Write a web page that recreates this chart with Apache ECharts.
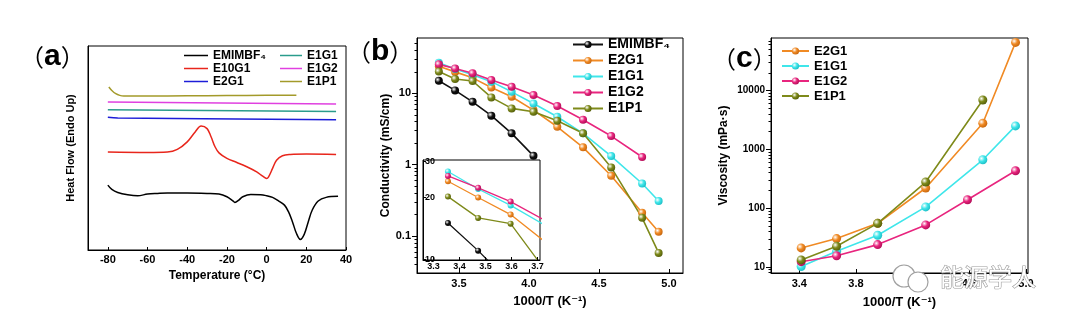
<!DOCTYPE html>
<html><head><meta charset="utf-8">
<script src="https://cdn.jsdelivr.net/npm/echarts@6/dist/echarts.min.js"></script>
<style>html,body{margin:0;padding:0;background:#fff}#c{width:1080px;height:328px}</style>
</head><body><div id="c"></div>
<script>
// ---------- Panel (a): DSC curves (arbitrary heat-flow units) ----------
const aBlackT = [-80,-78,-75,-70,-65,-60,-55,-50,-40,-30,-24,-20,-17,-16,-14,-12,-8,-3,0,3,6,9,11,13,15,17,19,21,23,26,30,36];
const aBlackV = [31.8,29.7,28.2,27.1,26.6,27.4,27.7,27.9,27.9,27.7,27.4,26.1,24.1,23.3,24.5,26.1,27.2,27.1,26.6,25.8,24.1,22.0,18.8,13.9,8.2,5.2,7.8,13.9,19.6,24.0,25.8,26.3];
const aRedT = [-80,-60,-50,-45,-40,-36,-33,-30,-28,-26,-24,-20,-15,-10,-5,-2,0,1,3,5,8,12,20,35];
const aRedV = [48.0,47.8,48.0,49.3,53.0,57.9,60.8,59.5,55.5,50.6,47.6,44.9,42.9,40.8,38.3,36.2,35.1,35.9,40.0,44.0,46.2,46.8,47.0,46.8];
const aBlueT = [-80,-75,35];
const aBlueV = [65.1,64.7,63.8];
const aTealT = [-80,35];
const aTealV = [68.8,67.9];
const aMagT = [-80,35];
const aMagV = [72.6,71.6];
const aOliveT = [-79.5,-78,-76,-74,-72,-60,-40,-20,0,15];
const aOliveV = [79.9,78.2,76.6,75.8,75.5,75.5,75.6,75.7,75.8,75.9];
const aTicks = [-80,-60,-40,-20,0,20,40];

// ---------- Panel (b): conductivity (mS/cm) vs 1000/T ----------
const bX = [3.356,3.472,3.597,3.731,3.876,4.032,4.202,4.386,4.587,4.808,4.926];
const bEMIM = [15.0,11.0,7.6,4.86,2.75,1.33];
const bE2G1 = [24.0,20.0,16.5,12.1,8.97,5.83,3.40,1.75,0.70,0.212,0.115];
const bE1G1 = [26.8,22.0,18.3,14.6,10.5,7.2,4.7,2.75,1.32,0.545,0.309];
const bE1G2 = [25.5,22.3,19.1,15.4,12.4,9.47,6.64,4.27,2.52,1.28];
const bE1P1 = [20.2,15.9,14.9,8.78,6.15,5.52,4.13,2.75,0.916,0.18,0.058];
const bXTicks = [3.5,4.0,4.5,5.0];
const bYTicks = [0.1,1,10];
const bYMinor = [0.04,0.05,0.06,0.07,0.08,0.09,0.2,0.3,0.4,0.5,0.6,0.7,0.8,0.9,2,3,4,5,6,7,8,9,20,30,40,50];
const insetXTicks = [3.3,3.4,3.5,3.6,3.7];
const insetYTicks = [10,20,30];

// ---------- Panel (c): viscosity (mPa·s) vs 1000/T ----------
const cX = [3.413,3.663,3.953,4.292,4.695,4.926];
const cXG2 = [3.413,3.663,3.953,4.292,4.587,4.926];
const cE2G1 = [21.1,30.4,55.2,220,2780,65600];
const cE1G1 = [10.2,18.5,34.6,105,664,2500];
const cE1G2 = [12.3,15.5,24,51.9,139,432];
const cE1P1 = [13.2,22.5,55.2,278,6900];
const cXTicks = [3.4,3.8,4.2,4.6,5.0];
const cYTicks = [10,100,1000,10000];
const cYMinor = [8,9,20,30,40,50,60,70,80,90,200,300,400,500,600,700,800,900,2000,3000,4000,5000,6000,7000,8000,9000,20000,30000,40000,50000,60000,70000];

const FONT = "'Liberation Sans', Arial, 'DejaVu Sans', sans-serif";
const C = {black:'#111111', orange:'#f08a24', cyan:'#3fe6ea', pink:'#e8257e', olive:'#7e8a1a',
  aTeal:'#2a9c8c', aRed:'#e8261c', aMag:'#e040e0', aBlue:'#1d1dd8', aOlive:'#a39a2a'};
const shade = {black:'#000000', orange:'#c0600a', cyan:'#18b8c0', pink:'#a80a50', olive:'#4e5808'};

function pairs(xs, ys){ return ys.map((y,i)=>[xs[i], y]); }
function ball(key){
  return {type:'radial', x:0.35, y:0.35, r:0.75,
    colorStops:[{offset:0,color:'#ffffff'},{offset:0.45,color:C[key]},{offset:1,color:shade[key]}]};
}
function nm(n){ const s = n.split(':')[1]; return s === 'EMIMBF4' ? 'EMIMBF\u2084' : s; }
const black = {color:'#000'};
const lab = (fs) => ({fontFamily:FONT, fontWeight:'bold', fontSize:fs, color:'#000'});

// ---- series ----
const series = [];
function aLine(name, xs, ys, col){
  series.push({name:'a:'+name, type:'line', xAxisIndex:0, yAxisIndex:0, data:pairs(xs,ys),
    symbol:'none', smooth:0.35, lineStyle:{color:col, width:1.5}, itemStyle:{color:col}});
}
aLine('EMIMBF4', aBlackT, aBlackV, '#000');
aLine('E10G1', aRedT, aRedV, C.aRed);
aLine('E2G1', aBlueT, aBlueV, C.aBlue);
aLine('E1G1', aTealT, aTealV, C.aTeal);
aLine('E1G2', aMagT, aMagV, C.aMag);
aLine('E1P1', aOliveT, aOliveV, C.aOlive);

function bLine(prefix, name, xs, ys, key, xi, yi, size, lw){
  series.push({name:prefix+name, type:'line', xAxisIndex:xi, yAxisIndex:yi, data:pairs(xs,ys),
    symbol:'circle', symbolSize:size, showSymbol:true, clip:true,
    lineStyle:{color:C[key], width:lw}, itemStyle:{color:ball(key)}, z: 3});
}
const bSets = [['EMIMBF4', bEMIM, 'black'], ['E2G1', bE2G1, 'orange'], ['E1G1', bE1G1, 'cyan'], ['E1G2', bE1G2, 'pink'], ['E1P1', bE1P1, 'olive']];
bSets.forEach(s => bLine('b:', s[0], bX, s[1], s[2], 1, 1, 8, 1.6));
bSets.forEach(s => bLine('i:', s[0], bX, s[1], s[2], 2, 3, 6, 1.3));
bLine('c:', 'E2G1', cX, cE2G1, 'orange', 3, 4, 9, 1.6);
bLine('c:', 'E1G1', cX, cE1G1, 'cyan', 3, 4, 9, 1.6);
bLine('c:', 'E1G2', cXG2, cE1G2, 'pink', 3, 4, 9, 1.6);
bLine('c:', 'E1P1', cX, cE1P1, 'olive', 3, 4, 9, 1.6);

const fmt1 = v => (Math.round(v*10)/10).toFixed(1);
const fmtLog = v => String(Math.round(v*10)/10);
const line0 = {show:true, onZero:false, lineStyle:black};

const option = {
  backgroundColor:'#ffffff',
  animation:false,
  textStyle:{fontFamily:FONT},
  grid:[
    {left:88, top:46, width:258, height:204, show:true, borderColor:'#000', borderWidth:1, backgroundColor:'transparent'},
    {left:417, top:38, width:266, height:235, show:true, borderColor:'#000', borderWidth:1, backgroundColor:'transparent'},
    {left:423, top:160, width:117, height:100, show:true, borderColor:'#000', borderWidth:1, backgroundColor:'#ffffff', z:1},
    {left:771, top:38, width:257, height:235, show:true, borderColor:'#000', borderWidth:1, backgroundColor:'transparent'}
  ],
  xAxis:[
    {gridIndex:0, type:'value', min:-90, max:40, axisLine:line0,
     axisTick:{customValues:aTicks, inside:true, length:3, lineStyle:black},
     axisLabel:{customValues:aTicks, margin:4, ...lab(11)}, splitLine:{show:false},
     name:'Temperature (°C)', nameLocation:'middle', nameGap:17, nameTextStyle:lab(12)},
    {gridIndex:1, type:'value', min:3.2, max:5.1, axisLine:line0,
     axisTick:{customValues:bXTicks, inside:true, length:4, lineStyle:black},
     axisLabel:{customValues:bXTicks, formatter:fmt1, margin:5, ...lab(11)}, splitLine:{show:false},
     name:'1000/T (K\u207B\u00B9)', nameLocation:'middle', nameGap:22, nameTextStyle:lab(13)},
    {gridIndex:2, type:'value', min:3.26, max:3.71, axisLine:line0,
     axisTick:{customValues:insetXTicks, inside:true, length:3, lineStyle:black},
     axisLabel:{customValues:insetXTicks, formatter:fmt1, margin:2, ...lab(9)}, splitLine:{show:false}, z:5},
    {gridIndex:3, type:'value', min:3.2, max:5.014, axisLine:line0,
     axisTick:{customValues:cXTicks, inside:true, length:4, lineStyle:black},
     axisLabel:{customValues:cXTicks, formatter:fmt1, margin:5, ...lab(11)}, splitLine:{show:false},
     name:'1000/T (K\u207B\u00B9)', nameLocation:'middle', nameGap:23, nameTextStyle:lab(13)}
  ],
  yAxis:[
    {gridIndex:0, type:'value', min:0, max:100, axisLine:line0, axisTick:{show:false},
     axisLabel:{show:false}, splitLine:{show:false},
     name:'Heat Flow (Endo Up)', nameLocation:'middle', nameGap:12, nameTextStyle:lab(11)},
    {gridIndex:1, type:'log', min:0.0303, max:59.7, position:'left', axisLine:line0,
     axisTick:{customValues:bYTicks, length:5, lineStyle:black},
     axisLabel:{customValues:bYTicks, formatter:fmtLog, margin:6, ...lab(11)}, splitLine:{show:false},
     name:'Conductivity (mS/cm)', nameLocation:'middle', nameGap:23, nameTextStyle:lab(12)},
    {gridIndex:1, type:'log', min:0.0303, max:59.7, position:'left', offset:0, axisLine:{show:false, onZero:false},
     axisTick:{customValues:bYMinor, length:2.5, lineStyle:black}, axisLabel:{show:false}, splitLine:{show:false}},
    {gridIndex:2, type:'log', min:9.9, max:30.5, axisLine:line0,
     axisTick:{customValues:insetYTicks, inside:true, length:3, lineStyle:black},
     axisLabel:{customValues:insetYTicks, inside:true, margin:2, formatter:fmtLog, ...lab(9)}, splitLine:{show:false}, z:5},
    {gridIndex:3, type:'log', min:7.9, max:78000, position:'left', axisLine:line0,
     axisTick:{customValues:cYTicks, length:5, lineStyle:black},
     axisLabel:{customValues:cYTicks, formatter:fmtLog, margin:6, ...lab(10)}, splitLine:{show:false},
     name:'Viscosity (mPa\u00B7s)', nameLocation:'middle', nameGap:41, nameTextStyle:lab(12)},
    {gridIndex:3, type:'log', min:7.9, max:78000, position:'left', offset:0, axisLine:{show:false, onZero:false},
     axisTick:{customValues:cYMinor, length:2.5, lineStyle:black}, axisLabel:{show:false}, splitLine:{show:false}}
  ],
  legend:[
    {data:['a:EMIMBF4','a:E10G1','a:E2G1'], orient:'vertical', left:184, top:49, padding:0, itemGap:0,
     icon:'rect', itemWidth:24, itemHeight:1.5, formatter:nm, textStyle:{...lab(12), lineHeight:13}},
    {data:['a:E1G1','a:E1G2','a:E1P1'], orient:'vertical', left:280, top:49, padding:0, itemGap:0,
     icon:'rect', itemWidth:22, itemHeight:1.5, formatter:nm, textStyle:{...lab(12), lineHeight:13}},
    {data:['b:EMIMBF4','b:E2G1','b:E1G1','b:E1G2','b:E1P1'], orient:'vertical', left:572, top:37, padding:0, itemGap:1,
     itemWidth:30, itemHeight:9, formatter:nm, textStyle:{...lab(14), lineHeight:15}},
    {data:['c:E2G1','c:E1G1','c:E1G2','c:E1P1'], orient:'vertical', left:781, top:44, padding:0, itemGap:1,
     itemWidth:27, itemHeight:9, formatter:nm, textStyle:{...lab(13), lineHeight:14}}
  ],
  graphic:[
    {type:'text', x:20, y:57, style:{text:'{p|\uFF08}{t|a}{p|\uFF09}', verticalAlign:'middle', textVerticalAlign:'middle',
      rich:{p:{fontFamily:"'Noto Sans CJK SC'", fontSize:24, fill:'#000', color:'#000'}, t:{fontFamily:FONT, fontWeight:'bold', fontSize:30, fill:'#000', color:'#000'}}}},
    {type:'text', x:347, y:52, style:{text:'{p|\uFF08}{t|b}{p|\uFF09}', verticalAlign:'middle', textVerticalAlign:'middle',
      rich:{p:{fontFamily:"'Noto Sans CJK SC'", fontSize:24, fill:'#000', color:'#000'}, t:{fontFamily:FONT, fontWeight:'bold', fontSize:30, fill:'#000', color:'#000'}}}},
    {type:'text', x:712, y:59, style:{text:'{p|\uFF08}{t|c}{p|\uFF09}', verticalAlign:'middle', textVerticalAlign:'middle',
      rich:{p:{fontFamily:"'Noto Sans CJK SC'", fontSize:24, fill:'#000', color:'#000'}, t:{fontFamily:FONT, fontWeight:'bold', fontSize:30, fill:'#000', color:'#000'}}}},
    {type:'circle', shape:{cx:904, cy:276, r:11}, style:{fill:'#ffffff', stroke:'#a0a0a0', lineWidth:1.2}, z:20},
    {type:'circle', shape:{cx:918, cy:282, r:10}, style:{fill:'#ffffff', stroke:'#a0a0a0', lineWidth:1.2}, z:21},
    {type:'text', x:940, y:277, z:22, style:{text:'能源学人', font:"24px 'Noto Sans CJK SC'", fill:'#ffffff',
      stroke:'#9a9a9a', lineWidth:1.2, verticalAlign:'middle', textVerticalAlign:'middle'}}
  ],
  series: series
};
const chart = echarts.init(document.getElementById('c'), null, {renderer:'canvas'});
chart.setOption(option);
</script></body></html>
